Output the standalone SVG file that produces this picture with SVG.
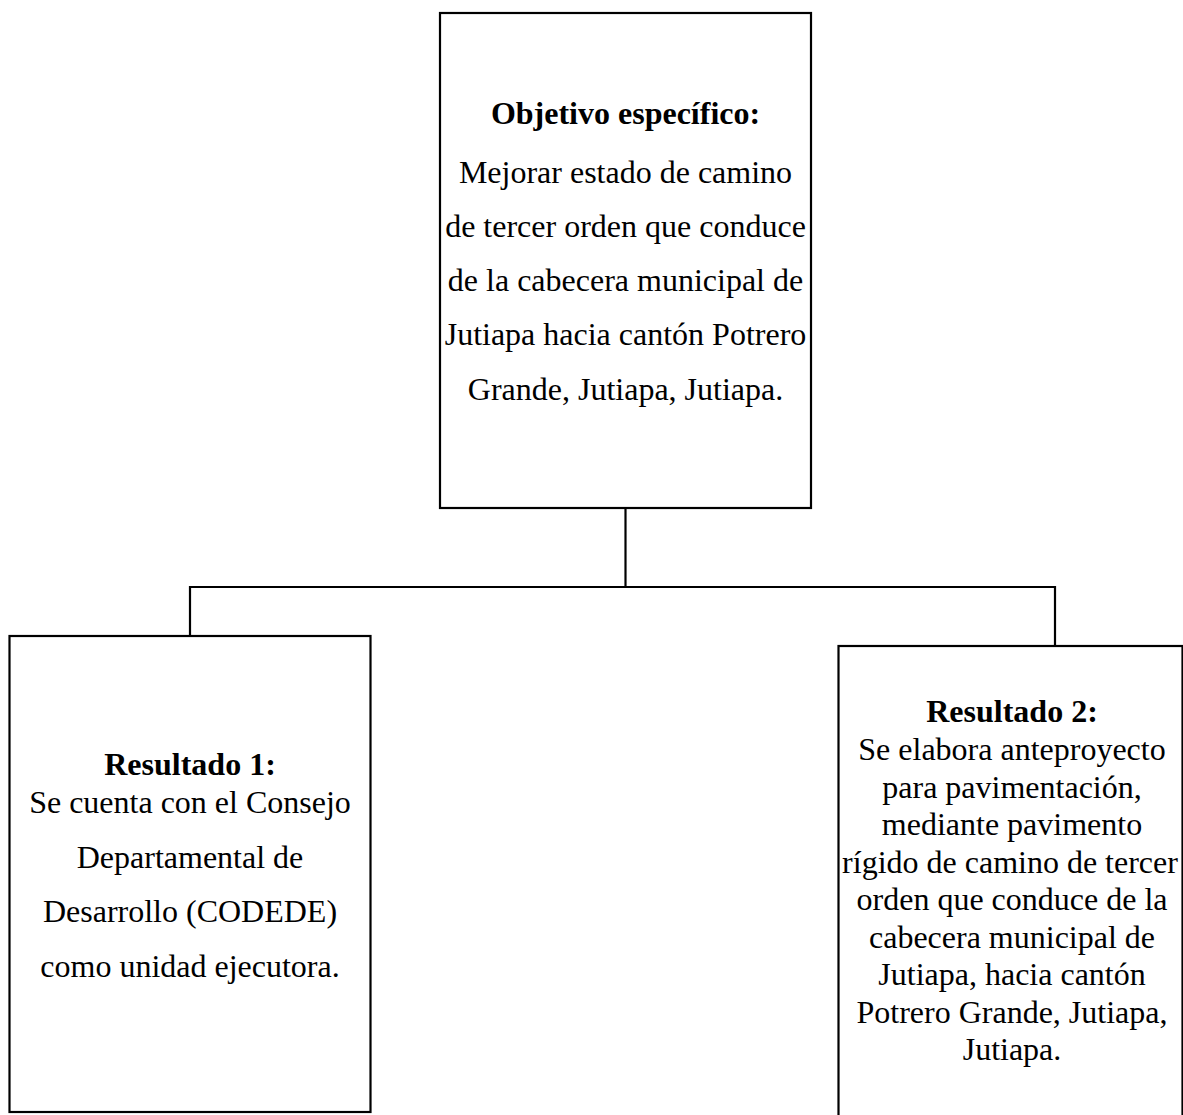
<svg xmlns="http://www.w3.org/2000/svg" width="1183" height="1115" viewBox="0 0 1183 1115">
  <style>
    .box { fill: #ffffff; stroke: #000000; stroke-width: 2.2; }
    .wire { fill: none; stroke: #000000; stroke-width: 2.2; }
    text { font-family: "Liberation Serif", "Times New Roman", serif; font-size: 32px; fill: #000000; text-anchor: middle; }
    .head { font-weight: bold; }
  </style>
  <rect width="1183" height="1115" fill="#ffffff"/>

  <!-- connectors: trunk from the objective down to the bus, then drops to each result -->
  <g id="connectors">
    <path class="wire" d="M625.5 508 V587"/>
    <path class="wire" d="M190 636 V587 H1055 V646"/>
  </g>

  <!-- specific objective -->
  <g id="objetivo">
    <rect class="box" x="440" y="13" width="371" height="495"/>
    <text class="head" x="625.5" y="124">Objetivo específico:</text>
    <text x="625.5" y="182.5">Mejorar estado de camino</text>
    <text x="625.5" y="237">de tercer orden que conduce</text>
    <text x="625.5" y="291">de la cabecera municipal de</text>
    <text x="625.5" y="345">Jutiapa hacia cantón Potrero</text>
    <text x="625.5" y="399.5">Grande, Jutiapa, Jutiapa.</text>
  </g>

  <!-- result 1 -->
  <g id="resultado1">
    <rect class="box" x="9.5" y="636" width="361" height="476"/>
    <text class="head" x="190" y="775">Resultado 1:</text>
    <text x="190" y="813">Se cuenta con el Consejo</text>
    <text x="190" y="868">Departamental de</text>
    <text x="190" y="922">Desarrollo (CODEDE)</text>
    <text x="190" y="977">como unidad ejecutora.</text>
  </g>

  <!-- result 2 (box runs past the right and bottom edges) -->
  <g id="resultado2">
    <rect class="box" x="838.5" y="646" width="344" height="480"/>
    <text class="head" x="1012" y="722">Resultado 2:</text>
    <text x="1012" y="760">Se elabora anteproyecto</text>
    <text x="1012" y="797.5">para pavimentación,</text>
    <text x="1012" y="835">mediante pavimento</text>
    <text x="1010" y="872.5">rígido de camino de tercer</text>
    <text x="1012" y="910">orden que conduce de la</text>
    <text x="1012" y="947.5">cabecera municipal de</text>
    <text x="1012" y="985">Jutiapa, hacia cantón</text>
    <text x="1012" y="1022.5">Potrero Grande, Jutiapa,</text>
    <text x="1012" y="1060">Jutiapa.</text>
  </g>
</svg>
